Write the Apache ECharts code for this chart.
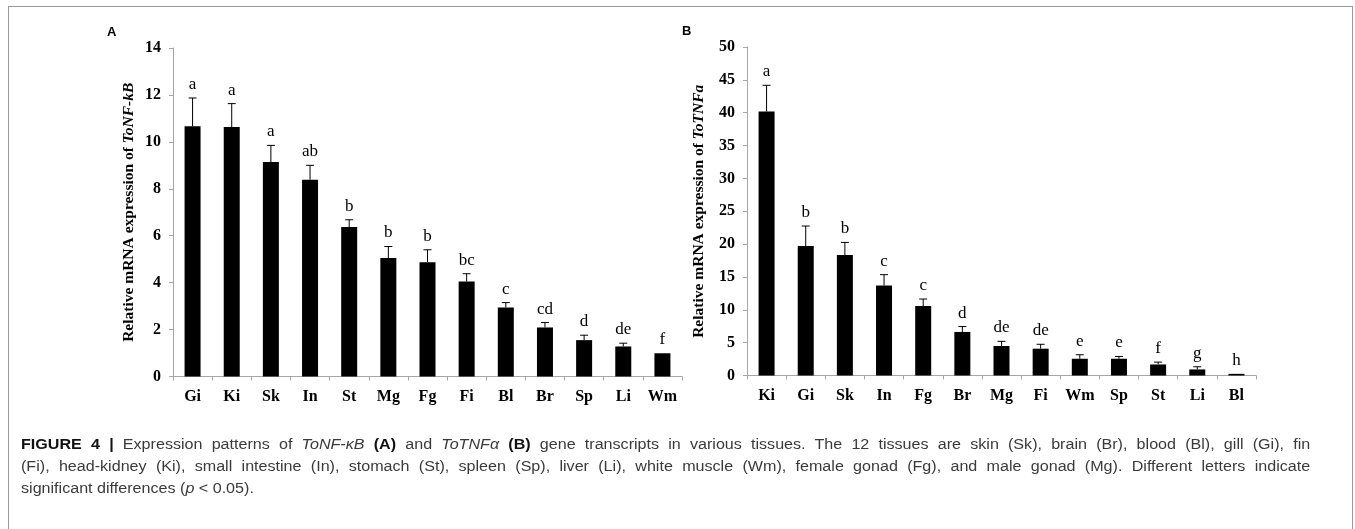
<!DOCTYPE html>
<html>
<head>
<meta charset="utf-8">
<title>Figure 4</title>
<script src="https://cdn.jsdelivr.net/npm/echarts@6/dist/echarts.min.js"></script>
<style>
    html, body { margin: 0; padding: 0; background: #fff; }
    #frame { position: absolute; left: 8px; top: 6px; width: 1345px; height: 600px; border: 1px solid #9a9a9a; border-bottom: none; box-sizing: border-box; }
    #main { position: absolute; left: 0; top: 0; width: 1355px; height: 529px; }
    #caption { position: absolute; left: 21px; top: 433px; width: 1121px; transform: scaleX(1.15); transform-origin: 0 0;
               font-family: 'Liberation Sans', Arial, sans-serif; font-size: 14px; line-height: 22px; color: #3a3a3a; white-space: nowrap; }
    #caption .full { text-align: justify; text-align-last: justify; }
    #caption b { color: #111; }
</style>
</head>
<body>
<div id="frame"></div>
<div id="main"></div>
<div id="caption">
    <div class="full"><b>FIGURE 4 |</b> Expression patterns of <i>ToNF-κB</i> <b>(A)</b> and <i>ToTNFα</i> <b>(B)</b> gene transcripts in various tissues. The 12 tissues are skin (Sk), brain (Br), blood (Bl), gill (Gi), fin</div>
    <div class="full">(Fi), head-kidney (Ki), small intestine (In), stomach (St), spleen (Sp), liver (Li), white muscle (Wm), female gonad (Fg), and male gonad (Mg). Different letters indicate</div>
    <div>significant differences (<i>p</i> &lt; 0.05).</div>
</div>
<script>
// panel A - ToNF-kB
var tissuesA = ['Gi', 'Ki', 'Sk', 'In', 'St', 'Mg', 'Fg', 'Fi', 'Bl', 'Br', 'Sp', 'Li', 'Wm'];
var meanA = [10.66, 10.63, 9.14, 8.39, 6.37, 5.05, 4.87, 4.05, 2.94, 2.09, 1.55, 1.28, 0.99];
var errA = [1.21, 1.00, 0.71, 0.61, 0.31, 0.49, 0.53, 0.33, 0.21, 0.21, 0.21, 0.14, 0];
var lettersA = ['a', 'a', 'a', 'ab', 'b', 'b', 'b', 'bc', 'c', 'cd', 'd', 'de', 'f'];
var ticksA = { max: 14, interval: 2 };

// panel B - ToTNFa
var tissuesB = ['Ki', 'Gi', 'Sk', 'In', 'Fg', 'Br', 'Mg', 'Fi', 'Wm', 'Sp', 'St', 'Li', 'Bl'];
var meanB = [40.17, 19.70, 18.34, 13.70, 10.57, 6.63, 4.49, 4.08, 2.55, 2.55, 1.68, 0.92, 0.25];
var errB = [4.00, 3.05, 1.92, 1.65, 1.07, 0.82, 0.71, 0.67, 0.61, 0.35, 0.36, 0.41, 0];
var lettersB = ['a', 'b', 'b', 'c', 'c', 'd', 'de', 'de', 'e', 'e', 'f', 'g', 'h'];
var ticksB = { max: 50, interval: 5 };

var serif = "'Liberation Serif', 'Times New Roman', serif";
var axisGray = '#a6a6a6';

function makeXAxis(idx, cats) {
    return {
        type: 'category',
        gridIndex: idx,
        data: cats,
        boundaryGap: true,
        axisLine: { lineStyle: { color: axisGray, width: 1 } },
        axisTick: { show: true, length: 4, interval: 0, lineStyle: { color: axisGray } },
        axisLabel: { margin: 12, interval: 0, color: '#000', fontFamily: serif, fontWeight: 'bold', fontSize: 16 }
    };
}

function makeYAxis(idx, ticks, gene, gap) {
    return {
        type: 'value',
        gridIndex: idx,
        min: 0,
        max: ticks.max,
        interval: ticks.interval,
        splitLine: { show: false },
        axisLine: { show: true, lineStyle: { color: axisGray, width: 1 } },
        axisTick: { show: true, length: 4, lineStyle: { color: axisGray } },
        axisLabel: { margin: 12, color: '#000', fontFamily: serif, fontWeight: 'bold', fontSize: 16 },
        name: '{n|Relative mRNA expression of }{i|' + gene + '}',
        nameLocation: 'middle',
        nameGap: gap,
        nameTextStyle: {
            rich: {
                n: { fontFamily: serif, fontWeight: 'bold', fontSize: 15.5, color: '#000' },
                i: { fontFamily: serif, fontWeight: 'bold', fontStyle: 'italic', fontSize: 15.5, color: '#000' }
            }
        }
    };
}

function makeBars(idx, means) {
    return {
        type: 'bar',
        xAxisIndex: idx,
        yAxisIndex: idx,
        data: means,
        barWidth: 16,
        itemStyle: { color: '#000' },
        silent: true,
        z: 2
    };
}

// upper error bar plus significance letter, placed through the axes
function makeErrors(idx, means, errs, letters) {
    var rows = means.map(function (m, i) { return [i, m, m + errs[i]]; });
    return {
        type: 'custom',
        xAxisIndex: idx,
        yAxisIndex: idx,
        data: rows,
        encode: { x: 0, y: [1, 2] },
        z: 5,
        silent: true,
        renderItem: function (params, api) {
            var base = api.coord([api.value(0), api.value(1)]);
            var top = api.coord([api.value(0), api.value(2)]);
            var kids = [];
            var stroke = { stroke: '#000', lineWidth: 1 };
            if (api.value(2) > api.value(1)) {
                kids.push({ type: 'line', shape: { x1: base[0], y1: base[1], x2: top[0], y2: top[1] }, style: stroke });
                kids.push({ type: 'line', shape: { x1: top[0] - 4, y1: top[1], x2: top[0] + 4, y2: top[1] }, style: stroke });
            }
            kids.push({
                type: 'text',
                x: top[0],
                y: top[1] - 5,
                style: {
                    text: letters[params.dataIndex],
                    fill: '#000',
                    font: '17px ' + serif,
                    align: 'center',
                    verticalAlign: 'bottom'
                }
            });
            return { type: 'group', children: kids };
        }
    };
}

var chart = echarts.init(document.getElementById('main'));
var option = {
    animation: false,
    backgroundColor: 'transparent',
    grid: [
        { left: 173, top: 48, width: 509, height: 328.5 },
        { left: 747, top: 47, width: 509, height: 328.5 }
    ],
    graphic: [
        { type: 'text', left: 107, top: 26, style: { text: 'A', font: 'bold 13px "Liberation Sans", Arial', fill: '#000' } },
        { type: 'text', left: 682, top: 25, style: { text: 'B', font: 'bold 13px "Liberation Sans", Arial', fill: '#000' } }
    ],
    xAxis: [makeXAxis(0, tissuesA), makeXAxis(1, tissuesB)],
    yAxis: [makeYAxis(0, ticksA, 'ToNF-kB', 36), makeYAxis(1, ticksB, 'ToTNFa', 40)],
    series: [
        makeBars(0, meanA),
        makeErrors(0, meanA, errA, lettersA),
        makeBars(1, meanB),
        makeErrors(1, meanB, errB, lettersB)
    ]
};
chart.setOption(option);
</script>
</body>
</html>
